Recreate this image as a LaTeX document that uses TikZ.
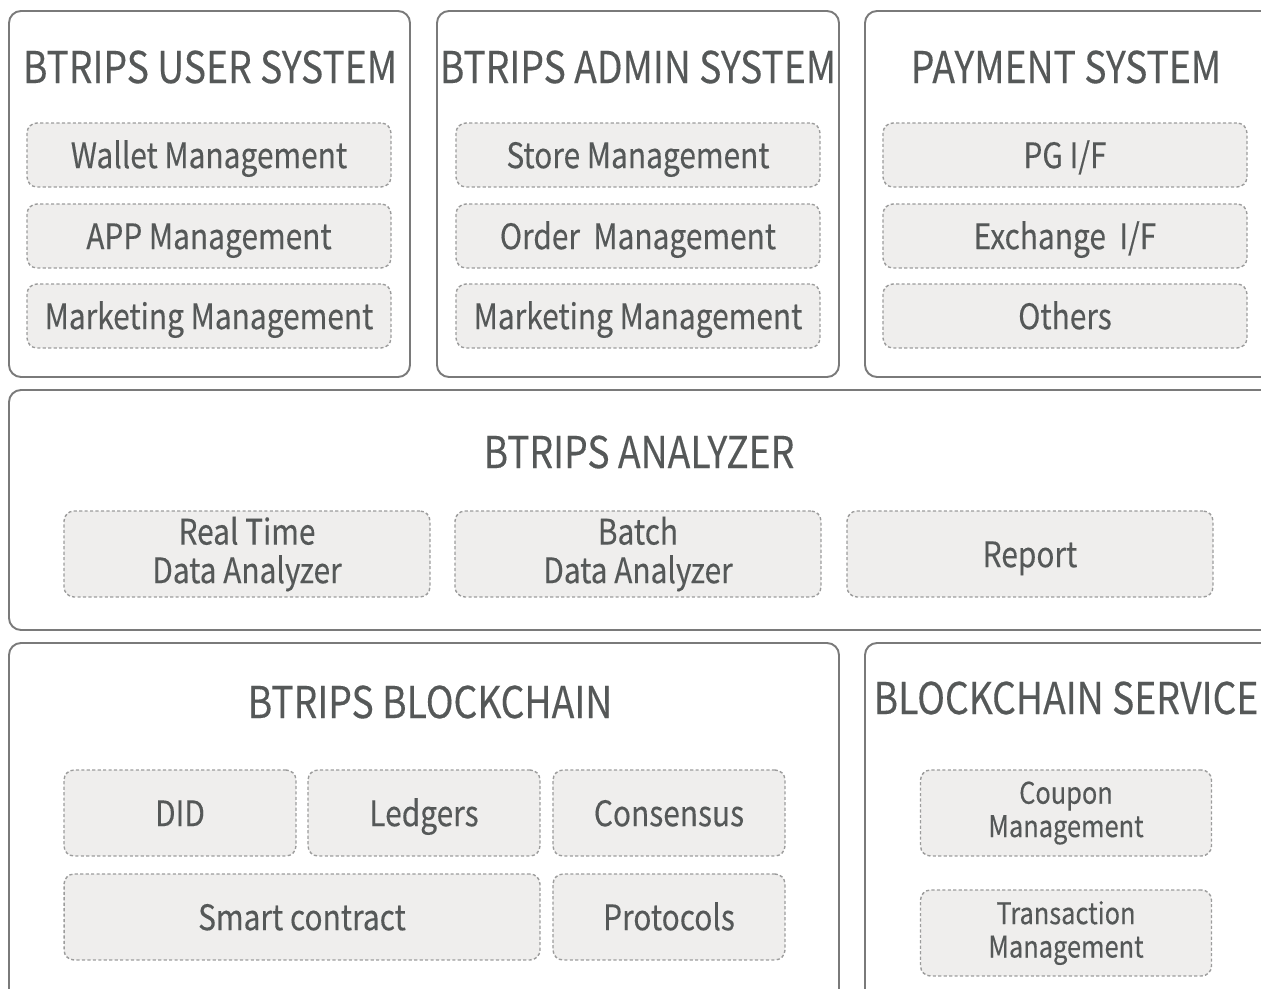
\documentclass[tikz,border=0pt]{standalone}
\usepackage{fontspec}
\setmainfont{Noto Sans CJK KR}[FakeStretch=0.85,FakeBold=0.25]
\definecolor{txtgray}{HTML}{555858}
\definecolor{linegray}{HTML}{7A7A7A}
\definecolor{dashgray}{HTML}{9C9C9C}
\definecolor{boxfill}{HTML}{EFEEED}
\begin{document}
\begin{tikzpicture}[x=0.02cm,y=-0.02cm,
  outer/.style={draw=linegray,line width=1.1pt,rounded corners=0.24cm},
  title/.style={text=txtgray,font=\fontsize{25}{28}\selectfont},
  item/.style={draw=dashgray,fill=boxfill,dash pattern=on 1.8pt off 1.3pt,line width=0.8pt,
    rounded corners=0.2cm,inner sep=0pt,text=txtgray,align=center,
    font=\fontsize{20}{22}\selectfont},
  oneline/.style={text height=15pt,text depth=0pt},
  small/.style={font=\fontsize{17}{19}\selectfont}]

  \useasboundingbox (0,0) rectangle (1261,989);
  \clip (0,0) rectangle (1261,989);

  % outer boxes
  \draw[outer] (9,11) rectangle (410,377);
  \draw[outer] (437,11) rectangle (839,377);
  \draw[outer] (865,11) rectangle (1290,377);
  \draw[outer] (9,390) rectangle (1290,630);
  \draw[outer] (9,643) rectangle (839,1010);
  \draw[outer] (865,643) rectangle (1290,1010);

  \begin{scope}[every node/.style={title}]
    \node (usertitle)  at (210,67)  {BTRIPS USER SYSTEM};
    \node (admintitle) at (638,67)  {BTRIPS ADMIN SYSTEM};
    \node (paytitle)   at (1066,67) {PAYMENT SYSTEM};
    \node (antitle)    at (639,452) {BTRIPS ANALYZER};
    \node (bctitle)    at (430,702) {BTRIPS BLOCKCHAIN};
    \node (svctitle)   at (1066,698) {BLOCKCHAIN SERVICE};
  \end{scope}

  \begin{scope}[every node/.style={item,oneline,minimum width=7.28cm,minimum height=1.28cm}]
    \node (wallet)   at (209,155) {Wallet Management};
    \node (app)      at (209,236) {APP Management};
    \node (umkt)     at (209,316) {Marketing Management};
    \node (store)    at (638,155) {Store Management};
    \node (order)    at (638,236) {Order\ \ Management};
    \node (amkt)     at (638,316) {Marketing Management};
    \node (pgif)     at (1065,155) {PG I/F};
    \node (exif)     at (1065,236) {Exchange\ \ I/F};
    \node (others)   at (1065,316) {Others};
  \end{scope}

  \begin{scope}[every node/.style={item,minimum width=7.32cm,minimum height=1.72cm}]
    \node (realtime) at (247,554) {Real Time\\Data Analyzer};
    \node (batch)    at (638,554) {Batch\\Data Analyzer};
    \node[oneline] (report) at (1030,554) {Report};
  \end{scope}

  \begin{scope}[every node/.style={item,oneline,minimum width=4.64cm,minimum height=1.72cm}]
    \node (did)       at (180,813) {DID};
    \node (ledgers)   at (424,813) {Ledgers};
    \node (consensus) at (669,813) {Consensus};
    \node (protocols) at (669,917) {Protocols};
  \end{scope}
  \node[item,oneline,minimum width=9.52cm,minimum height=1.72cm] (smart) at (302,917) {Smart contract};

  \begin{scope}[every node/.style={item,small,minimum width=5.82cm,minimum height=1.72cm}]
    \node (coupon) at (1066,813) {Coupon\\Management};
    \node (trans)  at (1066,933) {Transaction\\Management};
  \end{scope}

\end{tikzpicture}
\end{document}
